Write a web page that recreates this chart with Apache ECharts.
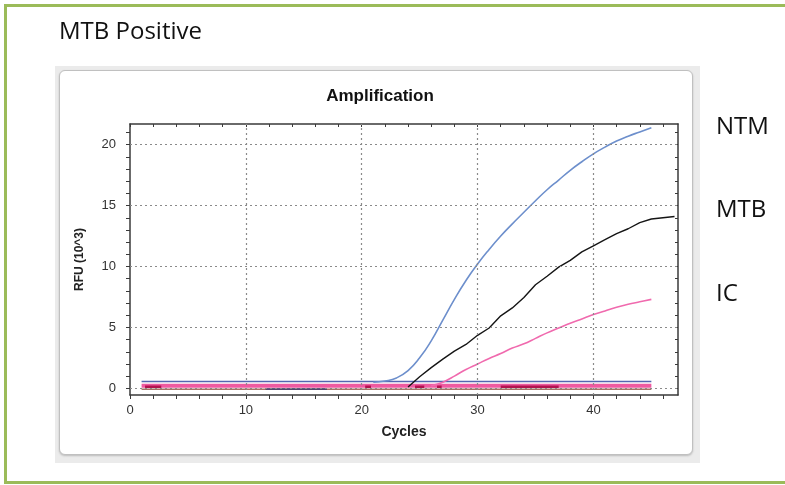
<!DOCTYPE html>
<html>
<head>
<meta charset="utf-8">
<script src="https://cdn.jsdelivr.net/npm/echarts@6/dist/echarts.min.js"></script>
<style>
  body { margin: 0; background: #fff; }
  #frame { position: absolute; left: 4px; top: 4px; width: 800px; height: 474px; border: 3px solid #9BBB59; border-right: none; }
  #panel { position: absolute; left: 55px; top: 66px; width: 645px; height: 397px; background: #EBEBEB; }
  #inner { position: absolute; left: 59px; top: 70px; width: 632px; height: 383px; background: #fff; border: 1px solid #C0C0C0; border-radius: 6px; box-shadow: 0 1px 2px #bbb; }
  #chart { position: absolute; left: 0; top: 0; width: 785px; height: 485px; }
</style>
</head>
<body>
<div id="frame"></div>
<div id="panel"></div>
<div id="inner"></div>
<div id="chart"></div>
<script>
// amplification curves (RFU x10^3 per cycle)
const ntmCycles = [21, 22, 23, 24, 25, 26, 27, 28, 29, 30, 31, 32, 33, 34, 35, 36, 37, 38, 39, 40, 41, 42, 43, 44, 45];
const ntmValues = [0.5, 0.6, 0.85, 1.45, 2.5, 3.9, 5.6, 7.3, 8.85, 10.2, 11.4, 12.5, 13.5, 14.45, 15.4, 16.3, 17.1, 17.9, 18.6, 19.25, 19.8, 20.3, 20.7, 21.05, 21.4];

const mtbCycles = [24, 25, 26, 27, 28, 29, 30, 31, 32, 33, 34, 35, 36, 37, 38, 39, 40, 41, 42, 43, 44, 45, 46, 47];
const mtbValues = [0.1, 0.95, 1.7, 2.4, 3.05, 3.6, 4.35, 4.95, 5.95, 6.6, 7.45, 8.5, 9.2, 9.95, 10.5, 11.2, 11.7, 12.2, 12.7, 13.1, 13.6, 13.9, 14.0, 14.1];

const icCycles = [26, 27, 28, 29, 30, 31, 32, 33, 34, 35, 36, 37, 38, 39, 40, 41, 42, 43, 44, 45];
const icValues = [0.2, 0.5, 1.0, 1.55, 2.0, 2.45, 2.85, 3.3, 3.65, 4.1, 4.55, 4.95, 5.35, 5.7, 6.05, 6.35, 6.65, 6.9, 7.1, 7.3];

// flat baseline traces
const baseSpan = [1, 45];
const ntmBaseline = 0.55;
const icBaseline = 0.2;
const brownBaseline = -0.08;
const maroonSegments = [[1.3, 2.7], [20.3, 20.8], [24.6, 25.4], [26.5, 26.9], [32, 37]];
const maroonBaseline = 0.12;
const navySegments = [[11.7, 17]];
const navyBaseline = -0.05;

// axes
const xTicks = [0, 2, 4, 6, 8, 10, 12, 14, 16, 18, 20, 22, 24, 26, 28, 30, 32, 34, 36, 38, 40, 42, 44, 46];
const xLabels = [0, 10, 20, 30, 40];
const yTicks = [0, 1, 2, 3, 4, 5, 6, 7, 8, 9, 10, 11, 12, 13, 14, 15, 16, 17, 18, 19, 20, 21];
const yLabels = [0, 5, 10, 15, 20];
const xGrid = [10, 20, 30, 40];
const yGrid = [0, 5, 10, 15, 20];

const xMin = 0, xMax = 47.3, yMin = -0.55, yMax = 21.7;

const zip = (xs, ys) => xs.map((x, i) => [x, ys[i]]);
const flat = v => baseSpan.map(c => [c, v]);
const segs = (list, v) => list.flatMap(s => [[s[0], v], [s[1], v], [s[1], '-']]);

const chart = echarts.init(document.getElementById('chart'));

const axisColor = '#3a3a3a';
const labelFont = { fontFamily: 'Liberation Sans', fontSize: 13, color: '#333' };
const gridLine = { type: [2, 3], color: '#8a8a8a', width: 1.2 };
const edge = { show: true, onZero: false, lineStyle: { color: axisColor, width: 1.5 } };

chart.setOption({
    animation: false,
    grid: { left: 130, right: 107, top: 124, bottom: 90, show: true, backgroundColor: '#fff', borderWidth: 0 },
    xAxis: [{
        type: 'value', min: xMin, max: xMax, position: 'bottom',
        axisLine: edge,
        axisTick: { customValues: xTicks, length: 4, lineStyle: { color: axisColor } },
        axisLabel: { customValues: xLabels, margin: 9, ...labelFont },
        splitLine: { show: false },
        name: 'Cycles', nameLocation: 'middle', nameGap: 30,
        nameTextStyle: { fontFamily: 'Liberation Sans', fontWeight: 'bold', fontSize: 14, color: '#222' }
    }, {
        type: 'value', min: xMin, max: xMax, position: 'top',
        axisLine: edge,
        axisTick: { customValues: xTicks, inside: true, length: 3, lineStyle: { color: axisColor } },
        axisLabel: { show: false },
        splitLine: { show: false }
    }],
    yAxis: [{
        type: 'value', min: yMin, max: yMax, position: 'left',
        axisLine: edge,
        axisTick: { show: true, customValues: yTicks, length: 4, lineStyle: { color: axisColor } },
        axisLabel: { customValues: yLabels, margin: 14, ...labelFont },
        splitLine: { show: false },
        name: 'RFU (10^3)', nameLocation: 'middle', nameGap: 44, nameRotate: 90,
        nameTextStyle: { fontFamily: 'Liberation Sans', fontWeight: 'bold', fontSize: 12, color: '#222' }
    }, {
        type: 'value', min: yMin, max: yMax, position: 'right',
        axisLine: edge,
        axisTick: { show: true, customValues: yTicks, inside: true, length: 3, lineStyle: { color: axisColor } },
        axisLabel: { show: false },
        splitLine: { show: false }
    }],
    graphic: [
        { type: 'text', x: 59, y: 32, style: { text: 'MTB Positive', font: '24px "Open Sans"', fill: '#111', verticalAlign: 'middle' } },
        { type: 'text', x: 380, y: 96, style: { text: 'Amplification', font: 'bold 17px "Liberation Sans"', fill: '#111', align: 'center', verticalAlign: 'middle' } },
        { type: 'text', x: 716, y: 127, style: { text: 'NTM', font: '24px "Open Sans"', fill: '#111', verticalAlign: 'middle' } },
        { type: 'text', x: 716, y: 210, style: { text: 'MTB', font: '24px "Open Sans"', fill: '#111', verticalAlign: 'middle' } },
        { type: 'text', x: 716, y: 294, style: { text: 'IC', font: '24px "Open Sans"', fill: '#111', verticalAlign: 'middle' } }
    ],
    series: [
        {
            name: 'baseline', type: 'line', symbol: 'none', data: flat(brownBaseline),
            lineStyle: { color: '#A57266', width: 1.5 },
            markLine: {
                silent: true, symbol: ['none', 'none'], label: { show: false },
                lineStyle: gridLine,
                data: xGrid.map(v => ({ xAxis: v })).concat(yGrid.map(v => ({ yAxis: v })))
            }
        },
        { name: 'navy', type: 'line', symbol: 'none', data: segs(navySegments, navyBaseline), lineStyle: { color: '#3A3A6E', width: 1.5 } },
        { name: 'IC baseline', type: 'line', symbol: 'none', data: flat(icBaseline), lineStyle: { color: '#EE5AA0', width: 4 } },
        { name: 'maroon', type: 'line', symbol: 'none', data: segs(maroonSegments, maroonBaseline), lineStyle: { color: '#B2134F', width: 2.5 } },
        { name: 'NTM baseline', type: 'line', symbol: 'none', data: flat(ntmBaseline), lineStyle: { color: '#5466B0', width: 1.5 } },
        { name: 'NTM', type: 'line', symbol: 'none', smooth: 0.5, data: zip(ntmCycles, ntmValues), lineStyle: { color: '#6D8FCC', width: 1.6 } },
        { name: 'MTB', type: 'line', symbol: 'none', data: zip(mtbCycles, mtbValues), lineStyle: { color: '#151515', width: 1.4 } },
        { name: 'IC', type: 'line', symbol: 'none', smooth: 0.4, data: zip(icCycles, icValues), lineStyle: { color: '#F06AAE', width: 1.6 } }
    ]
});
</script>
</body>
</html>
